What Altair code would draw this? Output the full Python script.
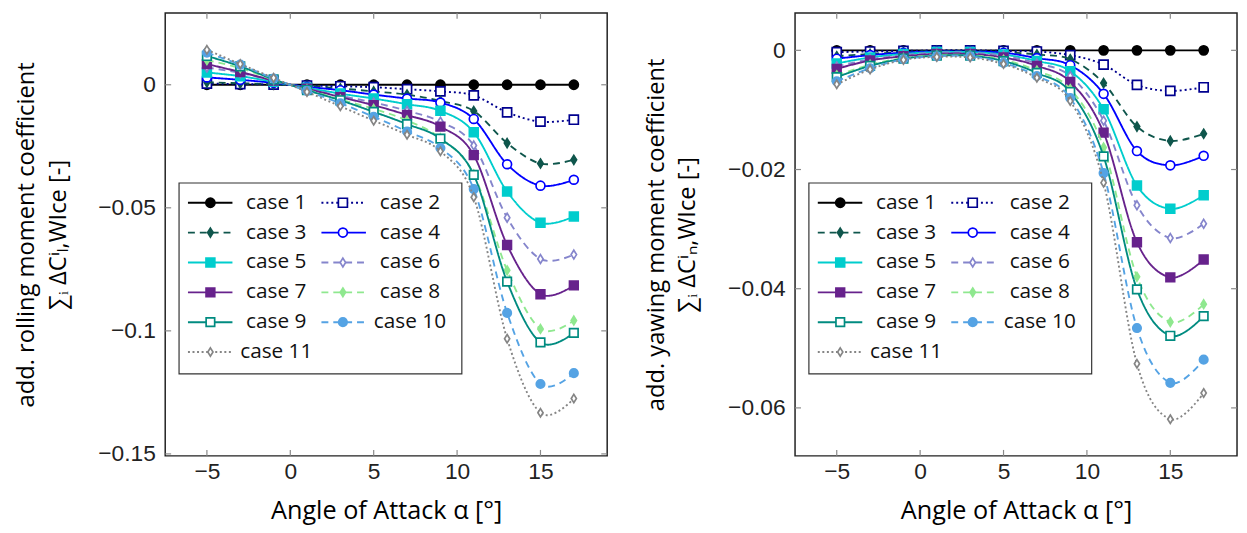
import altair as alt
import pandas as pd

# ---------------- data ----------------
aoa = [-5, -3, -1, 1, 3, 5, 7, 9, 11, 13, 15, 17]
case_names = [f"case {i}" for i in range(1, 12)]

roll_case1 = [0, 0, 0, 0, 0, 0, 0, 0, 0, 0, 0, 0]
roll_case2 = [0.0005, 0.0003, 0.0001, -0.0003, -0.0006, -0.0010, -0.0018, -0.0027, -0.0043, -0.0112, -0.0150, -0.0142]
roll_case3 = [0.0010, 0.0006, 0.0002, -0.0005, -0.0015, -0.0027, -0.0040, -0.0066, -0.0107, -0.0237, -0.0320, -0.0305]
roll_case4 = [0.0030, 0.0020, 0.0008, -0.0008, -0.0022, -0.0040, -0.0056, -0.0072, -0.0139, -0.0323, -0.0410, -0.0386]
roll_case5 = [0.0050, 0.0035, 0.0012, -0.0012, -0.0036, -0.0056, -0.0079, -0.0106, -0.0193, -0.0434, -0.0561, -0.0535]
roll_case6 = [0.0070, 0.0048, 0.0016, -0.0015, -0.0045, -0.0072, -0.0106, -0.0150, -0.0247, -0.0540, -0.0708, -0.0690]
roll_case7 = [0.0084, 0.0052, 0.0017, -0.0016, -0.0050, -0.0083, -0.0123, -0.0170, -0.0286, -0.0651, -0.0851, -0.0815]
roll_case8 = [0.0100, 0.0068, 0.0020, -0.0020, -0.0060, -0.0098, -0.0145, -0.0217, -0.0364, -0.0754, -0.0992, -0.0958]
roll_case9 = [0.0117, 0.0075, 0.0022, -0.0022, -0.0063, -0.0110, -0.0160, -0.0219, -0.0366, -0.0800, -0.1047, -0.1008]
roll_case10 = [0.0130, 0.0082, 0.0025, -0.0025, -0.0075, -0.0130, -0.0190, -0.0257, -0.0424, -0.0927, -0.1216, -0.1172]
roll_case11 = [0.0142, 0.0084, 0.0028, -0.0029, -0.0087, -0.0146, -0.0203, -0.0270, -0.0457, -0.1032, -0.1333, -0.1275]

yaw_case1 = [0, 0, 0, 0, 0, 0, 0, 0, 0, 0, 0, 0]
yaw_case2 = [-0.0003, -0.0002, -0.0001, 0.0000, 0.0000, -0.0001, -0.0002, -0.0008, -0.0024, -0.0058, -0.0068, -0.0062]
yaw_case3 = [-0.0010, -0.0006, -0.0003, -0.0001, -0.0001, -0.0003, -0.0007, -0.0015, -0.0055, -0.0128, -0.0152, -0.0140]
yaw_case4 = [-0.0014, -0.0008, -0.0004, -0.0002, -0.0002, -0.0004, -0.0013, -0.0025, -0.0073, -0.0169, -0.0193, -0.0177]
yaw_case5 = [-0.0022, -0.0012, -0.0006, -0.0003, -0.0003, -0.0007, -0.0018, -0.0035, -0.0099, -0.0227, -0.0266, -0.0243]
yaw_case6 = [-0.0027, -0.0015, -0.0008, -0.0004, -0.0004, -0.0009, -0.0022, -0.0043, -0.0118, -0.0260, -0.0315, -0.0291]
yaw_case7 = [-0.0031, -0.0017, -0.0010, -0.0006, -0.0006, -0.0012, -0.0026, -0.0053, -0.0138, -0.0322, -0.0381, -0.0351]
yaw_case8 = [-0.0042, -0.0024, -0.0013, -0.0008, -0.0008, -0.0016, -0.0034, -0.0065, -0.0163, -0.0380, -0.0456, -0.0426]
yaw_case9 = [-0.0045, -0.0026, -0.0014, -0.0009, -0.0009, -0.0018, -0.0038, -0.0070, -0.0178, -0.0401, -0.0479, -0.0446]
yaw_case10 = [-0.0052, -0.0030, -0.0015, -0.0010, -0.0010, -0.0021, -0.0043, -0.0080, -0.0206, -0.0466, -0.0558, -0.0519]
yaw_case11 = [-0.0057, -0.0032, -0.0016, -0.0011, -0.0012, -0.0023, -0.0046, -0.0085, -0.0222, -0.0526, -0.0619, -0.0575]

roll_ticks = [0, -0.05, -0.1, -0.15]
yaw_ticks = [0, -0.02, -0.04, -0.06]
x_ticks = [-5, 0, 5, 10, 15]

# ---------------- styles ----------------
line_colors = ["#000000", "#00008f", "#0f564c", "#0000ff", "#00cdcd", "#8585cc",
               "#67228c", "#8fe88f", "#008b80", "#55a3e4", "#858585"]
DIAMOND = "M0,-1L0.62,0L0,1L-0.62,0Z"
shapes = ["circle", "square", DIAMOND, "circle", "square", DIAMOND,
          "square", DIAMOND, "square", "circle", DIAMOND]
filled = [True, False, True, False, True, False, True, True, False, True, False]
fills = [c if f else "#ffffff" for c, f in zip(line_colors, filled)]
dashes = [[1, 0], [2, 3], [7, 5], [1, 0], [1, 0], [7, 5],
          [1, 0], [7, 5], [1, 0], [7, 5], [2, 2.6]]
sizes = [85, 72, 120, 70, 80, 115, 80, 120, 72, 85, 115]

W, H = 447, 448
FONT = "Open Sans"
TICKFONT = "Liberation Sans"
XDOM = [-7.5, 19]

color_scale = alt.Scale(domain=case_names, range=line_colors)
fill_scale = alt.Scale(domain=case_names, range=fills)
dash_scale = alt.Scale(domain=case_names, range=dashes)
shape_scale = alt.Scale(domain=case_names, range=shapes)
size_scale = alt.Scale(domain=case_names, range=sizes)


def long_df(series):
    rows = []
    for name, vals in zip(case_names, series):
        for x, y in zip(aoa, vals):
            rows.append({"case": name, "aoa": x, "val": y})
    return pd.DataFrame(rows)


def panel(series, ydom, yticks, ytitle):
    df = long_df(series)
    xs = alt.Scale(domain=XDOM, nice=False, zero=False)
    ys = alt.Scale(domain=ydom, nice=False, zero=False)
    xaxis = alt.Axis(
        values=x_ticks, labelExpr="format(datum.value, '~g')",
        ticks=False, domain=False, grid=False, labelPadding=5,
        labelFont=TICKFONT, labelFontSize=23, labelColor="#222",
        title="Angle of Attack α [°]", titleFont=FONT, titleFontSize=25.5,
        titleFontWeight="normal", titleColor="#000", titlePadding=15)
    yaxis = alt.Axis(
        values=yticks, labelExpr="format(datum.value, '~g')",
        ticks=False, domain=False, grid=False, labelPadding=10,
        labelFont=TICKFONT, labelFontSize=23, labelColor="#222",
        title=ytitle, titleFont=FONT, titleFontSize=24,
        titleFontWeight="normal", titleColor="#000",
        titlePadding=28, titleLineHeight=32)

    def X(field):
        return alt.X(field, type="quantitative", scale=xs, axis=xaxis)

    def Y(field):
        return alt.Y(field, type="quantitative", scale=ys, axis=yaxis)

    ytick_df = pd.DataFrame({"v": yticks})
    xtick_df = pd.DataFrame({"v": x_ticks})
    tick_style = dict(color="#8a8a8a", strokeWidth=1.2)

    layers = [
        alt.Chart(ytick_df).mark_rule(**tick_style).encode(
            y=Y("v"), x=alt.value(0), x2=alt.value(6)),
        alt.Chart(ytick_df).mark_rule(**tick_style).encode(
            y=Y("v"), x=alt.value(W - 6), x2=alt.value(W)),
        alt.Chart(xtick_df).mark_rule(**tick_style).encode(
            x=X("v"), y=alt.value(H - 6), y2=alt.value(H)),
        alt.Chart(xtick_df).mark_rule(**tick_style).encode(
            x=X("v"), y=alt.value(0), y2=alt.value(6)),
    ]

    for name in case_names:
        sub = df[df["case"] == name]
        layers.append(
            alt.Chart(sub).mark_line(interpolate="cardinal", strokeWidth=1.9).encode(
                x=X("aoa"), y=Y("val"),
                color=alt.Color("case:N", scale=color_scale, legend=None),
                strokeDash=alt.StrokeDash("case:N", scale=dash_scale, legend=None)))
        layers.append(
            alt.Chart(sub).mark_point(filled=False, strokeWidth=1.7, opacity=1).encode(
                x=X("aoa"), y=Y("val"),
                stroke=alt.Stroke("case:N", scale=color_scale, legend=None),
                fill=alt.Fill("case:N", scale=fill_scale, legend=None),
                shape=alt.Shape("case:N", scale=shape_scale, legend=None),
                size=alt.Size("case:N", scale=size_scale, legend=None)))

    # legend box (pixel layout converted into data space of this panel)
    layers.append(
        alt.Chart(pd.DataFrame({"a": [0]})).mark_rect(
            fill="white", stroke="#333", strokeWidth=1.2).encode(
            x=alt.value(14), x2=alt.value(300), y=alt.value(172), y2=alt.value(365)))

    kx = (XDOM[1] - XDOM[0]) / W
    ky = (ydom[1] - ydom[0]) / H
    leg_df = pd.DataFrame({"case": case_names, "idx": list(range(len(case_names)))})
    leg = alt.Chart(leg_df).transform_calculate(
        col="datum.idx % 2", row="floor(datum.idx / 2)"
    ).transform_calculate(
        lx1=f"{XDOM[0]} + (23 + 135 * datum.col) * {kx}",
        lx2=f"{XDOM[0]} + (68 + 135 * datum.col) * {kx}",
        lxm=f"{XDOM[0]} + (45.7 + 134 * datum.col) * {kx}",
        ltx=f"{XDOM[0]} + (112.3 + 135.2 * datum.col) * {kx}",
        ly=f"{ydom[1]} - (192 + 30.2 * datum.row) * {ky}")
    layers.append(
        leg.mark_rule(strokeWidth=1.9).encode(
            x=X("lx1"), x2="lx2:Q", y=Y("ly"),
            color=alt.Color("case:N", scale=color_scale, legend=None),
            strokeDash=alt.StrokeDash("case:N", scale=dash_scale, legend=None)))
    layers.append(
        leg.mark_point(filled=False, strokeWidth=1.7, opacity=1).encode(
            x=X("lxm"), y=Y("ly"),
            stroke=alt.Stroke("case:N", scale=color_scale, legend=None),
            fill=alt.Fill("case:N", scale=fill_scale, legend=None),
            shape=alt.Shape("case:N", scale=shape_scale, legend=None),
            size=alt.Size("case:N", scale=size_scale, legend=None)))
    layers.append(
        leg.mark_text(font=FONT, fontSize=21, align="center", baseline="middle",
                      color="#111").encode(
            x=X("ltx"), y=Y("ly"), text="case:N"))

    return alt.layer(*layers).properties(width=W, height=H)


left = panel([roll_case1, roll_case2, roll_case3, roll_case4, roll_case5, roll_case6,
              roll_case7, roll_case8, roll_case9, roll_case10, roll_case11],
             [-0.1508, 0.0292], roll_ticks,
             ["add. rolling moment coefficient", "∑ᵢ ΔCⁱₗ,WIce [-]"])
right = panel([yaw_case1, yaw_case2, yaw_case3, yaw_case4, yaw_case5, yaw_case6,
               yaw_case7, yaw_case8, yaw_case9, yaw_case10, yaw_case11],
              [-0.06805, 0.00628], yaw_ticks,
              ["add. yawing moment coefficient", "∑ᵢ ΔCⁱₙ,WIce [-]"])

chart = alt.hconcat(left, right, spacing=35).properties(
    padding={"left": 6, "top": 0, "right": 0, "bottom": 2}
).configure_view(stroke="#222", strokeWidth=1.5)

chart.save("out.html", embed_options={"renderer": "svg", "actions": False})
